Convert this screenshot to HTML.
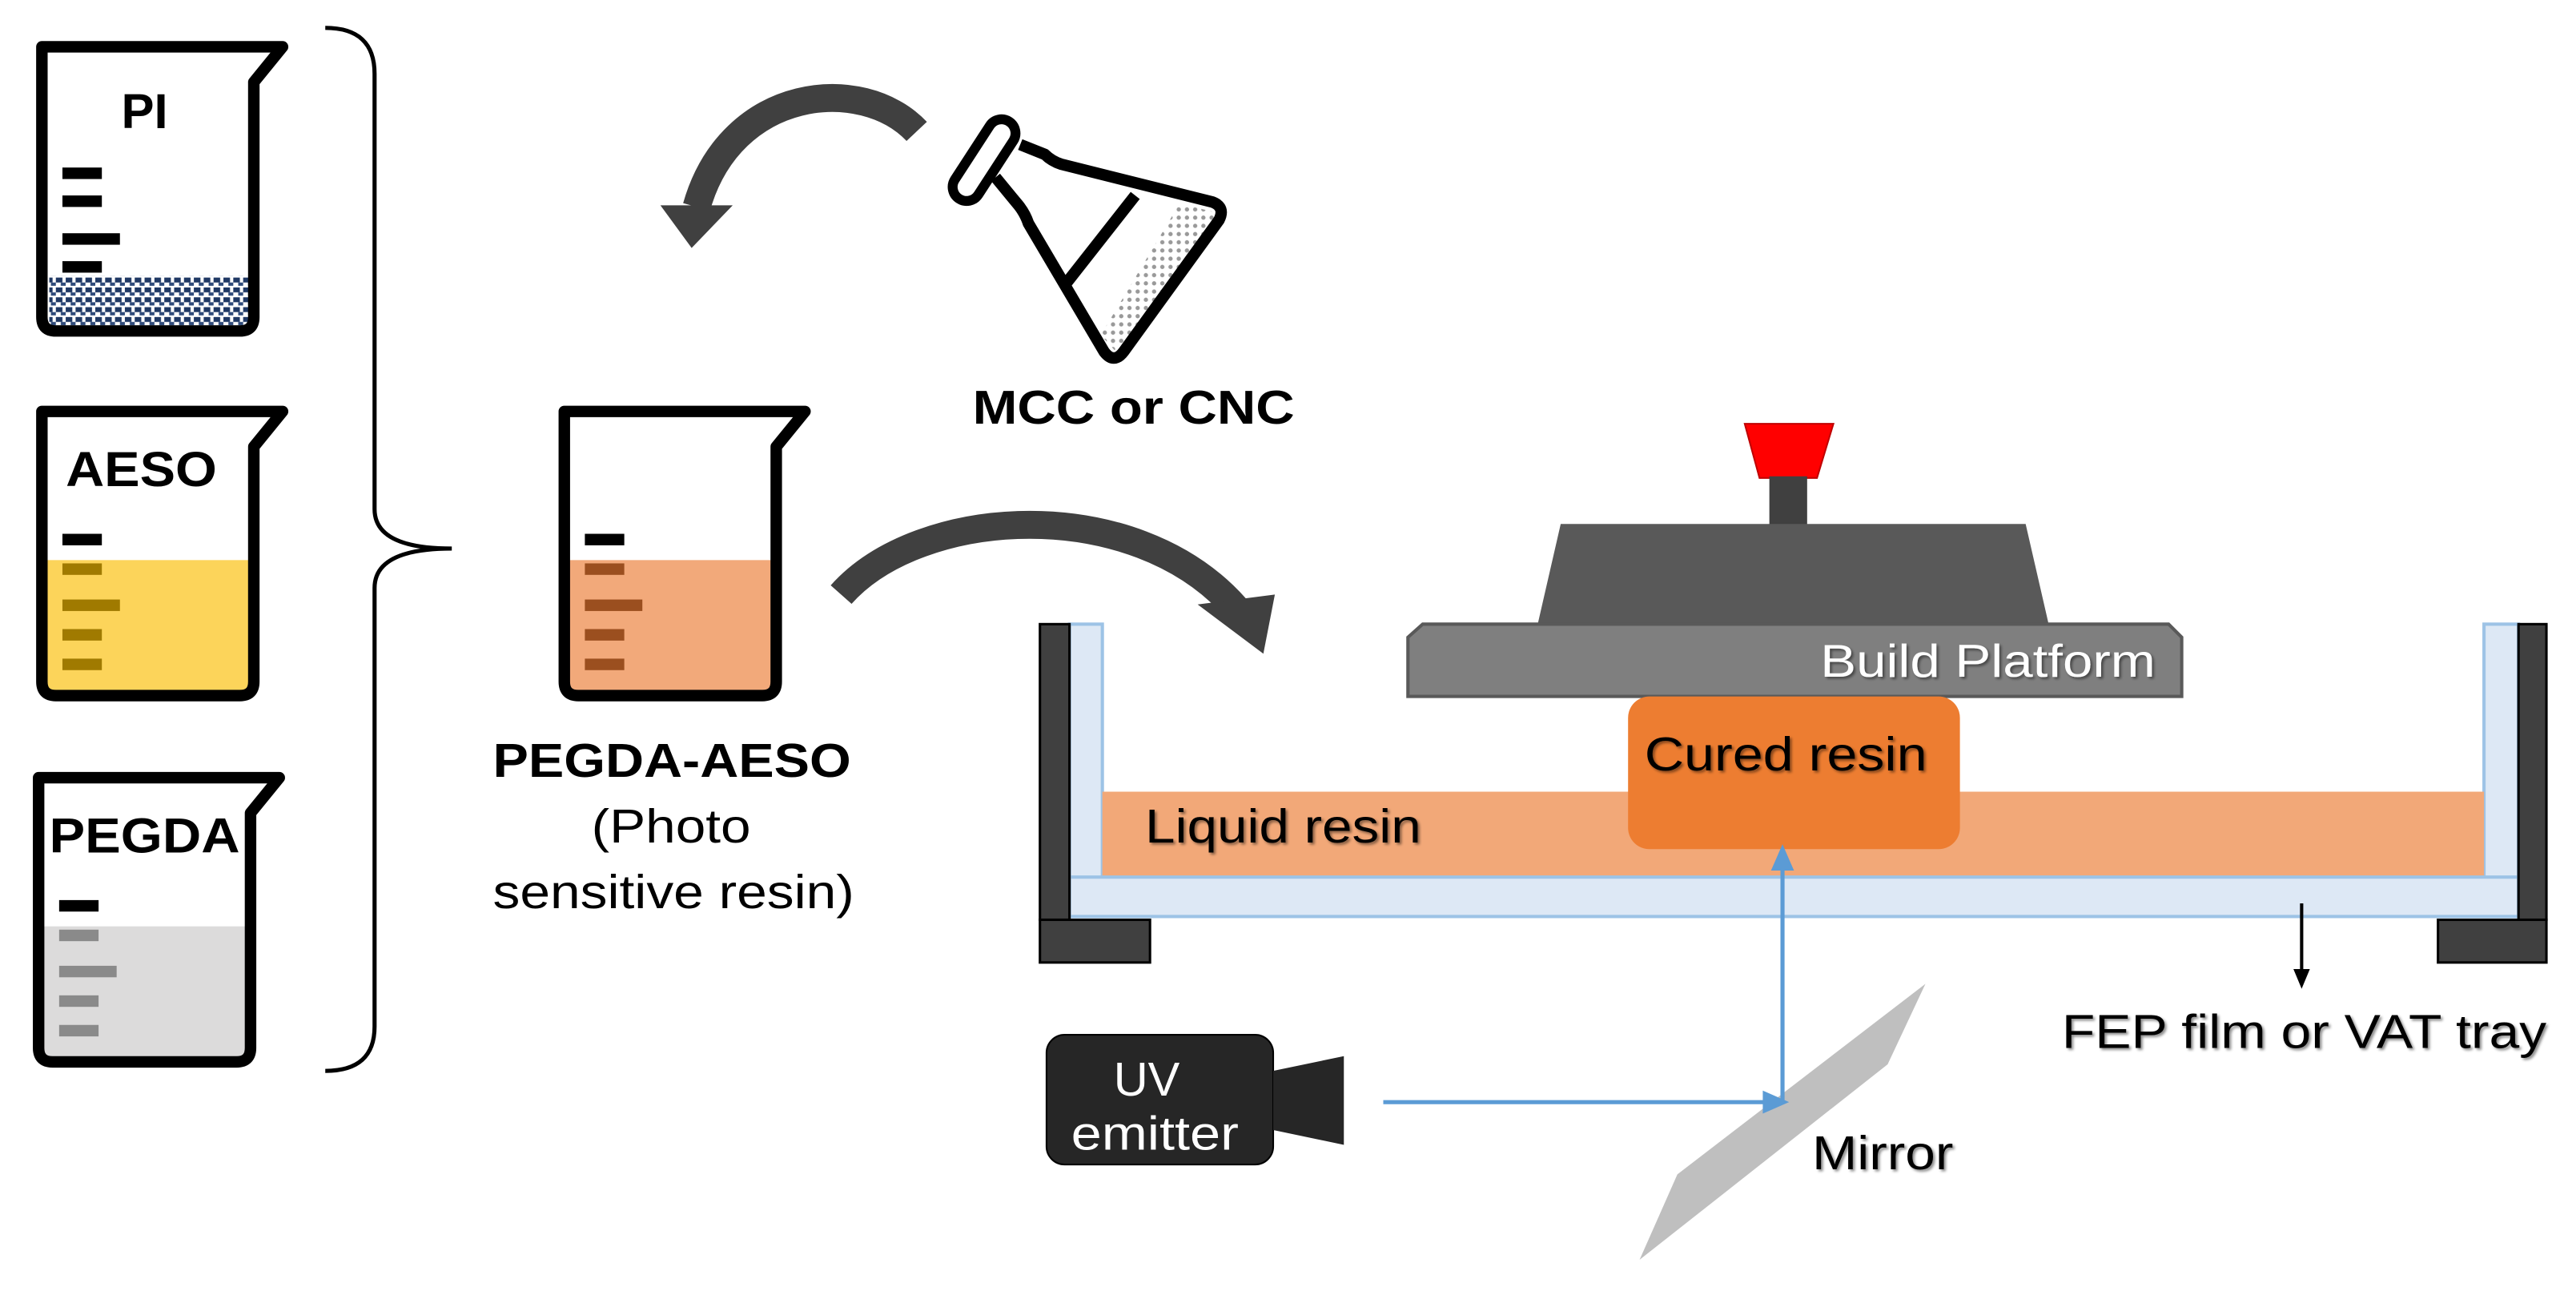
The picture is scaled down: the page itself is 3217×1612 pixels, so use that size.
<!DOCTYPE html>
<html><head><meta charset="utf-8"><style>
html,body{margin:0;padding:0;background:#fff;}
svg{display:block;}
text{font-family:"Liberation Sans",Arial,sans-serif;}
.n{font-family:"Liberation Sans Narrow","Liberation Sans",sans-serif;}
</style></head><body>
<svg width="3217" height="1612" viewBox="0 0 1568 786" preserveAspectRatio="none" xmlns="http://www.w3.org/2000/svg">
<defs>
<pattern id="dots" width="6" height="6" patternUnits="userSpaceOnUse"><rect x="0" y="0" width="4" height="3" fill="#1F3864"/><rect x="3" y="3" width="3" height="2" fill="#2E4A7A"/></pattern>
<pattern id="gdots" width="5" height="5" patternUnits="userSpaceOnUse"><circle cx="2.5" cy="2.5" r="1.3" fill="#999"/></pattern>
<filter id="sh" x="-10%" y="-20%" width="130%" height="150%"><feDropShadow dx="1.2" dy="1.2" stdDeviation="0.8" flood-color="#000" flood-opacity="0.45"/></filter>
</defs>

<!-- PI beaker -->
<g transform="translate(22,25)">
<rect x="8" y="143" width="122" height="31" fill="url(#dots)"/>
<rect x="16" y="77" width="24" height="7" fill="#000"/>
<rect x="16" y="94" width="24" height="7" fill="#000"/>
<rect x="16" y="117" width="35" height="7" fill="#000"/>
<rect x="16" y="134" width="24" height="7" fill="#000"/>
<path d="M3.5,3.5 L150,3.5 L132.5,25 L132.5,168 Q132.5,176.5 124,176.5 L12,176.5 Q3.5,176.5 3.5,168 Z" fill="none" stroke="#000" stroke-width="7" stroke-linejoin="round"/>
<text x="66" y="53" font-size="30" font-weight="bold" text-anchor="middle">PI</text>
</g>

<!-- AESO beaker -->
<g transform="translate(22,247)">
<rect x="3.5" y="94" width="129" height="82" fill="#FCD45A"/>
<rect x="16" y="78" width="24" height="7" fill="#000"/>
<rect x="16" y="96" width="24" height="7" fill="#A07A00"/>
<rect x="16" y="118" width="35" height="7" fill="#A07A00"/>
<rect x="16" y="136" width="24" height="7" fill="#A07A00"/>
<rect x="16" y="154" width="24" height="7" fill="#A07A00"/>
<path d="M3.5,3.5 L150,3.5 L132.5,25 L132.5,168 Q132.5,176.5 124,176.5 L12,176.5 Q3.5,176.5 3.5,168 Z" fill="none" stroke="#000" stroke-width="7" stroke-linejoin="round"/>
<text x="18" y="49" font-size="30" font-weight="bold" textLength="92" lengthAdjust="spacingAndGlyphs">AESO</text>
</g>

<!-- PEGDA beaker -->
<g transform="translate(20,470)">
<rect x="3.5" y="94" width="129" height="82" fill="#DCDBDB"/>
<rect x="16" y="78" width="24" height="7" fill="#000"/>
<rect x="16" y="96" width="24" height="7" fill="#8A8A8A"/>
<rect x="16" y="118" width="35" height="7" fill="#8A8A8A"/>
<rect x="16" y="136" width="24" height="7" fill="#8A8A8A"/>
<rect x="16" y="154" width="24" height="7" fill="#8A8A8A"/>
<path d="M3.5,3.5 L150,3.5 L132.5,25 L132.5,168 Q132.5,176.5 124,176.5 L12,176.5 Q3.5,176.5 3.5,168 Z" fill="none" stroke="#000" stroke-width="7" stroke-linejoin="round"/>
<text x="10" y="49" font-size="30" font-weight="bold" textLength="116" lengthAdjust="spacingAndGlyphs">PEGDA</text>
</g>

<!-- center beaker -->
<g transform="translate(340,247)">
<rect x="3.5" y="94" width="129" height="82" fill="#F2A97A"/>
<rect x="16" y="78" width="24" height="7" fill="#000"/>
<rect x="16" y="96" width="24" height="7" fill="#9B4F1F"/>
<rect x="16" y="118" width="35" height="7" fill="#9B4F1F"/>
<rect x="16" y="136" width="24" height="7" fill="#9B4F1F"/>
<rect x="16" y="154" width="24" height="7" fill="#9B4F1F"/>
<path d="M3.5,3.5 L150,3.5 L132.5,25 L132.5,168 Q132.5,176.5 124,176.5 L12,176.5 Q3.5,176.5 3.5,168 Z" fill="none" stroke="#000" stroke-width="7" stroke-linejoin="round"/>
</g>

<!-- brace -->
<path d="M198,17 Q228,17 228,45 L228,310 Q228,334 275,334 Q228,334 228,358 L228,625 Q228,652 198,652" fill="none" stroke="#000" stroke-width="2.5"/>

<text x="300" y="473" font-size="29" font-weight="bold" textLength="218" lengthAdjust="spacingAndGlyphs">PEGDA-AESO</text>
<text x="360" y="513" font-size="29" textLength="97" lengthAdjust="spacingAndGlyphs">(Photo</text>
<text x="300" y="553" font-size="29" textLength="220" lengthAdjust="spacingAndGlyphs">sensitive resin)</text>

<!-- top curved arrow -->
<path d="M558,80 C525,45 445,52 424,126" fill="none" stroke="#404040" stroke-width="17"/>
<polygon points="402,125 446,125 421,151" fill="#404040"/>

<!-- flask -->
<polygon points="718,124 743,130 681,216 670,204" fill="url(#gdots)"/>
<path d="M606,108 L620,125 Q624,130 626,136 L672,214 Q678,222 684,214 L742,134 Q746,126 738,123 L646,100 Q640,98 636,94 L621,88" fill="none" stroke="#000" stroke-width="7" stroke-linejoin="round"/>
<line x1="691" y1="119" x2="647" y2="175" stroke="#000" stroke-width="7"/>
<rect x="571" y="89" width="56" height="17" rx="8.5" transform="rotate(-57 599 97.5)" fill="#fff" stroke="#000" stroke-width="6"/>
<text class="n" x="690" y="258" font-size="29" font-weight="bold" text-anchor="middle" textLength="196" lengthAdjust="spacingAndGlyphs">MCC or CNC</text>

<!-- second arrow -->
<path d="M512,362 C560,308 690,300 752,370" fill="none" stroke="#404040" stroke-width="17"/>
<polygon points="729,368 776,362 769,398" fill="#404040"/>

<!-- platform -->
<polygon points="1062,258 1116,258 1106,291 1071,291" fill="#FF0000" stroke="#C00000" stroke-width="1"/>
<rect x="1077" y="290" width="23" height="30" fill="#404040"/>
<polygon points="950,319 1233,319 1247,380 936,380" fill="#595959"/>
<polygon points="866,380 1320,380 1328,388 1328,424 857,424 857,388" fill="#7F7F7F" stroke="#595959" stroke-width="2"/>
<text class="n" x="1312" y="412" font-size="28" fill="#fff" text-anchor="end" filter="url(#sh)" textLength="204" lengthAdjust="spacingAndGlyphs">Build Platform</text>

<!-- vat -->
<rect x="651" y="380" width="20" height="178" fill="#DDE8F5" stroke="#9DC3E6" stroke-width="2"/>
<rect x="1512" y="380" width="21" height="178" fill="#DDE8F5" stroke="#9DC3E6" stroke-width="2"/>
<rect x="671" y="482" width="841" height="52" fill="#F2A878"/>
<rect x="651" y="534" width="882" height="24" fill="#DDE8F5" stroke="#9DC3E6" stroke-width="2"/>
<rect x="633" y="380" width="18" height="180" fill="#404040" stroke="#000" stroke-width="1.5"/>
<rect x="633" y="560" width="67" height="26" fill="#404040" stroke="#000" stroke-width="1.5"/>
<rect x="1533" y="380" width="17" height="180" fill="#404040" stroke="#000" stroke-width="1.5"/>
<rect x="1484" y="560" width="66" height="26" fill="#404040" stroke="#000" stroke-width="1.5"/>

<rect x="991" y="424" width="202" height="93" rx="13" fill="#ED7D31"/>
<text class="n" x="1087" y="469" font-size="29" text-anchor="middle" filter="url(#sh)" textLength="172" lengthAdjust="spacingAndGlyphs">Cured resin</text>
<text class="n" x="697" y="513" font-size="29" filter="url(#sh)" textLength="168" lengthAdjust="spacingAndGlyphs">Liquid resin</text>

<!-- mirror -->
<polygon points="1172,599 1149,648 998,767 1021,715" fill="#BFBFBF"/>

<!-- light path -->
<line x1="842" y1="671" x2="1075" y2="671" stroke="#5B9BD5" stroke-width="2.5"/>
<polygon points="1073,664 1089,671 1073,678" fill="#5B9BD5"/>
<line x1="1085" y1="671" x2="1085" y2="528" stroke="#5B9BD5" stroke-width="2.5"/>
<polygon points="1078,530 1085,514 1092,530" fill="#5B9BD5"/>
<text class="n" x="1103" y="712" font-size="29" filter="url(#sh)" textLength="86" lengthAdjust="spacingAndGlyphs">Mirror</text>

<!-- UV emitter -->
<rect x="637" y="630" width="138" height="79" rx="11" fill="#262626" stroke="#000" stroke-width="1"/>
<polygon points="775,652 818,643 818,697 775,688" fill="#262626"/>
<text class="n" x="698" y="667" font-size="29" fill="#fff" text-anchor="middle">UV</text>
<text class="n" x="703" y="700" font-size="29" fill="#fff" text-anchor="middle" textLength="102" lengthAdjust="spacingAndGlyphs">emitter</text>

<!-- FEP arrow -->
<line x1="1401" y1="550" x2="1401" y2="592" stroke="#000" stroke-width="2"/>
<polygon points="1396,590 1401,602 1406,590" fill="#000"/>
<text class="n" x="1255" y="638" font-size="29" filter="url(#sh)" textLength="295" lengthAdjust="spacingAndGlyphs">FEP film or VAT tray</text>
</svg>
</body></html>
